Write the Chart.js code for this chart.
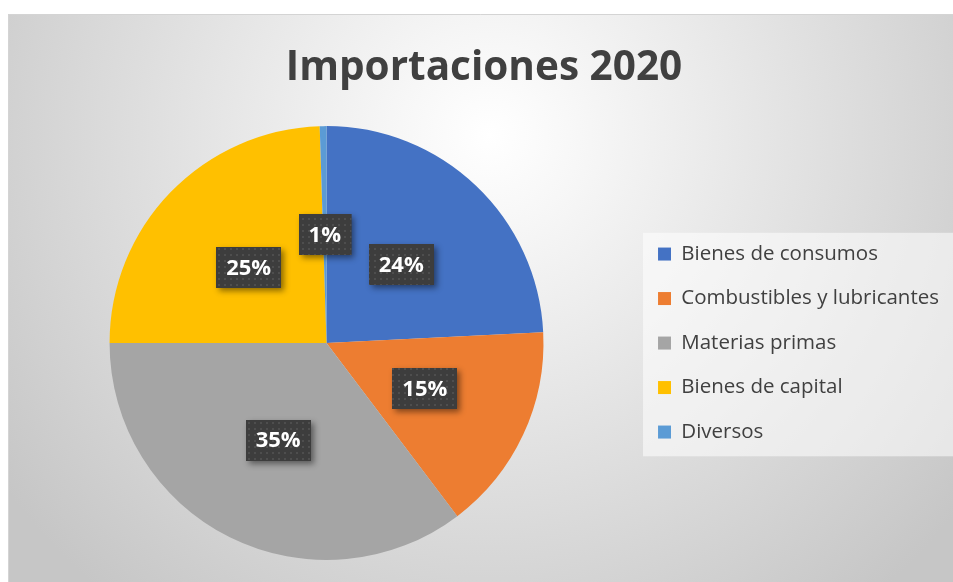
<!DOCTYPE html>
<html>
<head>
<meta charset="utf-8">
<script src="https://cdn.jsdelivr.net/npm/chart.js@4.4.0/dist/chart.umd.min.js"></script>
<style>
  html, body { margin: 0; padding: 0; background: #ffffff; }
  #wrap { width: 953px; height: 582px; position: relative; }
</style>
</head>
<body>
<div id="wrap"><canvas id="pieChart" width="953" height="582"></canvas></div>
<script>
// values (share of total, %)
var categories = ['Bienes de consumos', 'Combustibles y lubricantes', 'Materias primas', 'Bienes de capital', 'Diversos'];
var shares = [24.2, 15.5, 35.3, 24.5, 0.5];
var shareLabels = ['24%', '15%', '35%', '25%', '1%'];
var sliceColors = ['#4472C4', '#ED7D31', '#A5A5A5', '#FFC000', '#5B9BD5'];

// grey backdrop with the light spot under the title
var backdrop = {
    id: 'backdrop',
    beforeDraw: function (chart) {
        var ctx = chart.ctx;
        ctx.save();
        ctx.fillStyle = '#ffffff';
        ctx.fillRect(0, 0, chart.width, chart.height);
        var g = ctx.createRadialGradient(490, 135, 0, 490, 135, 600);
        g.addColorStop(0, '#ffffff');
        g.addColorStop(0.15, '#f7f7f7');
        g.addColorStop(1, '#c6c6c6');
        ctx.fillStyle = g;
        ctx.fillRect(8, 14, chart.width - 8, chart.height - 14);
        ctx.strokeStyle = '#d4d4d4';
        ctx.lineWidth = 1;
        ctx.beginPath();
        ctx.moveTo(8.5, chart.height);
        ctx.lineTo(8.5, 14.5);
        ctx.lineTo(chart.width, 14.5);
        ctx.stroke();

        // pale panel behind the legend
        var boxes = chart.legend && chart.legend.legendHitBoxes;
        if (boxes && boxes.length) {
            var first = boxes[0], last = boxes[boxes.length - 1];
            var left = first.left - 15;
            var top = first.top - 11;
            var bottom = last.top + last.height + 14;
            ctx.fillStyle = 'rgba(255,255,255,0.55)';
            ctx.fillRect(left, top, chart.width - left, bottom - top);
        }
        ctx.restore();
    }
};

// dark dotted boxes with the percentages
var dotPattern = null;
function getDots(ctx) {
    if (dotPattern) return dotPattern;
    var c = document.createElement('canvas');
    c.width = 6; c.height = 6;
    var p = c.getContext('2d');
    p.fillStyle = '#3d3d3d';
    p.fillRect(0, 0, 6, 6);
    p.fillStyle = '#4e4e4e';
    p.fillRect(2, 2, 2, 2);
    dotPattern = ctx.createPattern(c, 'repeat');
    return dotPattern;
}

var sliceLabels = {
    id: 'sliceLabels',
    afterDatasetsDraw: function (chart) {
        var ctx = chart.ctx;
        var meta = chart.getDatasetMeta(0);
        ctx.save();
        ctx.font = 'bold 22px "Open Sans"';
        ctx.textAlign = 'center';
        ctx.textBaseline = 'middle';
        meta.data.forEach(function (arc, i) {
            var pos = arc.tooltipPosition();
            var txt = shareLabels[i];
            var w = ctx.measureText(txt).width + 20;
            var h = 41;
            var x = Math.round(pos.x - w / 2);
            var y = Math.round(pos.y - h / 2);
            ctx.save();
            ctx.shadowColor = 'rgba(0,0,0,0.45)';
            ctx.shadowBlur = 6;
            ctx.shadowOffsetX = 3;
            ctx.shadowOffsetY = 3;
            ctx.fillStyle = '#3d3d3d';
            ctx.fillRect(x, y, w, h);
            ctx.restore();
            ctx.fillStyle = getDots(ctx);
            ctx.fillRect(x, y, w, h);
            ctx.fillStyle = '#ffffff';
            ctx.fillText(txt, pos.x, pos.y + 1);
        });
        ctx.restore();
    }
};

var ctx = document.getElementById('pieChart').getContext('2d');
var pieChart = new Chart(ctx, {
    type: 'pie',
    data: {
        labels: categories,
        datasets: [{
            data: shares,
            backgroundColor: sliceColors,
            borderWidth: 0
        }]
    },
    options: {
        responsive: false,
        animation: false,
        layout: {
            padding: { left: 19, right: 4, top: 0, bottom: 22 }
        },
        plugins: {
            tooltip: { enabled: false },
            title: {
                display: true,
                text: 'Importaciones 2020',
                color: '#404040',
                font: { family: '"Open Sans"', size: 40.5, weight: 'bold' },
                padding: { top: 44, bottom: 33.5 }
            },
            legend: {
                display: true,
                position: 'right',
                fullSize: false,
                labels: {
                    boxWidth: 13,
                    boxHeight: 13,
                    padding: 24,
                    color: '#404040',
                    font: { family: '"Open Sans"', size: 20.5 }
                }
            }
        }
    },
    plugins: [backdrop, sliceLabels]
});
</script>
</body>
</html>
